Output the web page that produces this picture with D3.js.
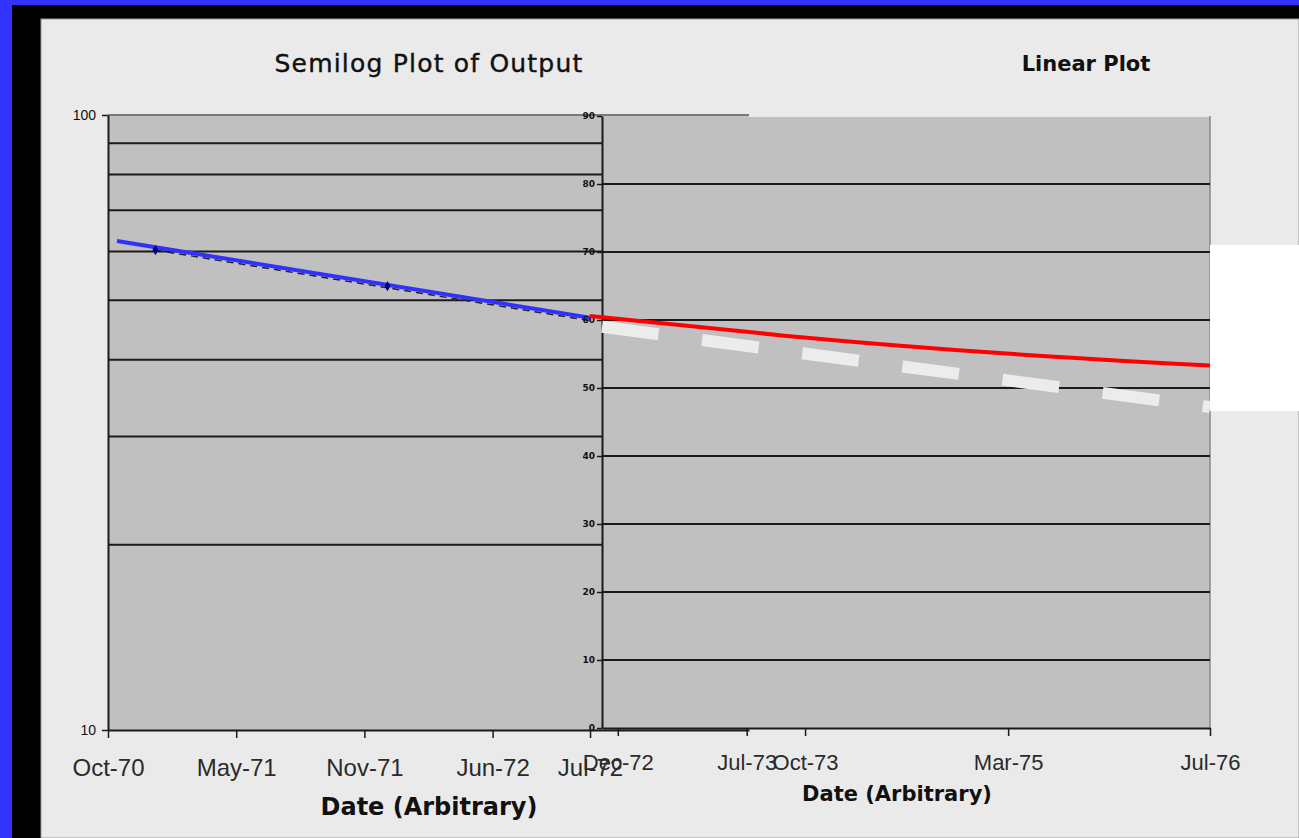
<!DOCTYPE html>
<html>
<head>
<meta charset="utf-8">
<script src="https://cdn.jsdelivr.net/npm/d3@7"></script>
<style>
  body { margin: 0; padding: 0; overflow: hidden; background: #3333ff; }
</style>
</head>
<body>
<svg id="chart" width="1299" height="838"></svg>
<script>
// left (semilog) chart data
var leftTickLabels = ["Oct-70", "May-71", "Nov-71", "Jun-72", "Jul-72"];
var leftTickPos = [0, 1, 2, 3, 3.76];
var leftGrid = [20, 30, 40, 50, 60, 70, 80, 90];
var blueX = [0.07, 3.76];
var blueY = [62.4, 46.8];
var markerX = [0.37, 2.18];
var markerY = [60.3, 52.7];
var trendX = [0.37, 3.76];
var trendY = [60.3, 46.3];

// right (linear) chart data
var rightTickLabels = ["Dec-72", "Jul-73", "Oct-73", "Mar-75", "Jul-76"];
var rightTickPos = [2.6, 23.8, 33.4, 66.8, 100];
var rightYTicks = [0, 10, 20, 30, 40, 50, 60, 70, 80, 90];
var redX = [-2, 30, 66, 100];
var redY = [60.6, 57.7, 55.1, 53.3];
var whiteX = [0, 100];
var whiteY = [59.0, 47.2];

var svg = d3.select("#chart");

// frame: blue, black, light panel
svg.append("rect").attr("x", 0).attr("y", 0).attr("width", 1299).attr("height", 838).attr("fill", "#3333ff");
svg.append("rect").attr("x", 12).attr("y", 5).attr("width", 1287).attr("height", 833).attr("fill", "#000");
svg.append("rect").attr("x", 41).attr("y", 19).attr("width", 1258).attr("height", 819)
  .attr("fill", "#eaeaea").attr("stroke", "#9a9a9a").attr("stroke-width", 1);

// ---------- left chart ----------
var lx = d3.scaleLinear().domain([0, 5]).range([108, 749]);
var ly = d3.scaleLog().domain([10, 100]).range([730, 115]);

svg.append("rect")
  .attr("x", lx(0)).attr("y", ly(100))
  .attr("width", lx(5) - lx(0)).attr("height", ly(10) - ly(100))
  .attr("fill", "#c0c0c0");

svg.append("line")
  .attr("x1", lx(0)).attr("x2", lx(5)).attr("y1", ly(100)).attr("y2", ly(100))
  .attr("stroke", "#7a7a7a").attr("stroke-width", 2);

svg.selectAll(".lgrid")
  .data(leftGrid)
  .enter().append("line")
  .attr("class", "lgrid")
  .attr("x1", lx(0)).attr("x2", lx(5))
  .attr("y1", function(d) { return ly(d); })
  .attr("y2", function(d) { return ly(d); })
  .attr("stroke", "#1a1a1a").attr("stroke-width", 2);

// dashed trend under the blue line
var trend = trendX.map(function(d, i) { return [lx(d), ly(trendY[i])]; });
svg.append("path")
  .attr("d", d3.line()(trend))
  .attr("fill", "none").attr("stroke", "#222").attr("stroke-width", 1.5)
  .attr("stroke-dasharray", "7,5");

var blue = blueX.map(function(d, i) { return [lx(d), ly(blueY[i])]; });
svg.append("path")
  .attr("d", d3.line()(blue))
  .attr("fill", "none").attr("stroke", "#3030ff").attr("stroke-width", 4);

svg.selectAll(".marker")
  .data(markerX)
  .enter().append("path")
  .attr("class", "marker")
  .attr("d", d3.symbol().type(d3.symbolDiamond).size(30))
  .attr("transform", function(d, i) { return "translate(" + lx(d) + "," + ly(markerY[i]) + ")"; })
  .attr("fill", "#000080");

// left axes
var lxAxis = svg.append("g")
  .attr("transform", "translate(0," + ly(10) + ")")
  .call(d3.axisBottom(lx)
    .tickValues(leftTickPos)
    .tickFormat(function(d, i) { return leftTickLabels[i]; })
    .tickSize(8).tickPadding(21).tickSizeOuter(0));
lxAxis.select(".domain").attr("stroke", "#1a1a1a").attr("stroke-width", 2);
lxAxis.selectAll(".tick line").attr("stroke", "#1a1a1a").attr("stroke-width", 1.5);
lxAxis.selectAll("text")
  .style("font-family", "Liberation Sans, Arial, sans-serif")
  .style("font-size", "24px").attr("fill", "#2a2a2a");

var lyAxis = svg.append("g")
  .attr("transform", "translate(" + lx(0) + ",0)")
  .call(d3.axisLeft(ly)
    .tickValues([10, 100])
    .tickFormat(d3.format("d"))
    .tickSize(6).tickPadding(6).tickSizeOuter(0));
lyAxis.select(".domain").attr("stroke", "#1a1a1a").attr("stroke-width", 2);
lyAxis.selectAll(".tick line").attr("stroke", "#1a1a1a").attr("stroke-width", 1.5);
lyAxis.selectAll("text")
  .style("font-family", "Liberation Sans Narrow, Liberation Sans, sans-serif")
  .style("font-size", "14px").attr("fill", "#111");

// ---------- right chart ----------
var rx = d3.scaleLinear().domain([0, 100]).range([602, 1210]);
var ry = d3.scaleLinear().domain([0, 90]).range([728, 116]);

svg.append("rect")
  .attr("x", rx(0)).attr("y", ry(90) + 1)
  .attr("width", rx(100) - rx(0)).attr("height", ry(0) - ry(90) - 1)
  .attr("fill", "#c0c0c0");

svg.append("line")
  .attr("x1", rx(100)).attr("x2", rx(100)).attr("y1", ry(90)).attr("y2", ry(0))
  .attr("stroke", "#8a8a8a").attr("stroke-width", 1.5);

svg.selectAll(".rgrid")
  .data(rightYTicks.filter(function(d) { return d > 0 && d < 90; }))
  .enter().append("line")
  .attr("class", "rgrid")
  .attr("x1", rx(0)).attr("x2", rx(100))
  .attr("y1", function(d) { return ry(d); })
  .attr("y2", function(d) { return ry(d); })
  .attr("stroke", "#1a1a1a").attr("stroke-width", 2);

var rxAxis = svg.append("g")
  .attr("transform", "translate(0," + ry(0) + ")")
  .call(d3.axisBottom(rx)
    .tickValues(rightTickPos)
    .tickFormat(function(d, i) { return rightTickLabels[i]; })
    .tickSize(8).tickPadding(18).tickSizeOuter(0));
rxAxis.select(".domain").attr("stroke", "#1a1a1a").attr("stroke-width", 2);
rxAxis.selectAll(".tick line").attr("stroke", "#1a1a1a").attr("stroke-width", 1.5);
rxAxis.selectAll("text")
  .style("font-family", "Liberation Sans, Arial, sans-serif")
  .style("font-size", "22px").attr("fill", "#2a2a2a");

var ryAxis = svg.append("g")
  .attr("transform", "translate(" + rx(0) + ",0)")
  .call(d3.axisLeft(ry)
    .tickValues(rightYTicks)
    .tickSize(5).tickPadding(2).tickSizeOuter(0));
ryAxis.select(".domain").attr("stroke", "#1a1a1a").attr("stroke-width", 2);
ryAxis.selectAll(".tick line").attr("stroke", "#1a1a1a").attr("stroke-width", 1.5);
ryAxis.selectAll("text")
  .style("font-family", "DejaVu Sans, sans-serif")
  .style("font-size", "9px").style("font-weight", "bold").attr("fill", "#111");

// white dashed projection
var white = whiteX.map(function(d, i) { return [rx(d), ry(whiteY[i])]; });
svg.append("path")
  .attr("d", d3.line()(white))
  .attr("fill", "none").attr("stroke", "#ececec").attr("stroke-width", 12)
  .attr("stroke-dasharray", "57,44");

// red curve
var red = redX.map(function(d, i) { return [rx(d), ry(redY[i])]; });
svg.append("path")
  .attr("d", d3.line().curve(d3.curveNatural)(red))
  .attr("fill", "none").attr("stroke", "#ff0000").attr("stroke-width", 4);

// blank white box on the right
svg.append("rect")
  .attr("x", rx(100)).attr("y", 245).attr("width", 1299 - rx(100)).attr("height", 166)
  .attr("fill", "#fff");

// titles
svg.append("text")
  .attr("x", 429).attr("y", 72)
  .style("text-anchor", "middle")
  .style("font-family", "DejaVu Sans, Verdana, sans-serif")
  .style("font-size", "25px").style("letter-spacing", "1.2px")
  .style("stroke", "#111").style("stroke-width", "0.4px")
  .attr("fill", "#111")
  .text("Semilog Plot of Output");

svg.append("text")
  .attr("x", 1086).attr("y", 71)
  .style("text-anchor", "middle")
  .style("font-family", "DejaVu Sans, Verdana, sans-serif")
  .style("font-size", "21px").style("font-weight", "bold")
  .attr("fill", "#111")
  .text("Linear Plot");

// axis titles
svg.append("text")
  .attr("x", 429).attr("y", 815)
  .style("text-anchor", "middle")
  .style("font-family", "DejaVu Sans, Verdana, sans-serif")
  .style("font-size", "24px").style("font-weight", "bold")
  .attr("fill", "#111")
  .text("Date (Arbitrary)");

svg.append("text")
  .attr("x", 897).attr("y", 801)
  .style("text-anchor", "middle")
  .style("font-family", "DejaVu Sans, Verdana, sans-serif")
  .style("font-size", "21px").style("font-weight", "bold")
  .attr("fill", "#111")
  .text("Date (Arbitrary)");
</script>
</body>
</html>
